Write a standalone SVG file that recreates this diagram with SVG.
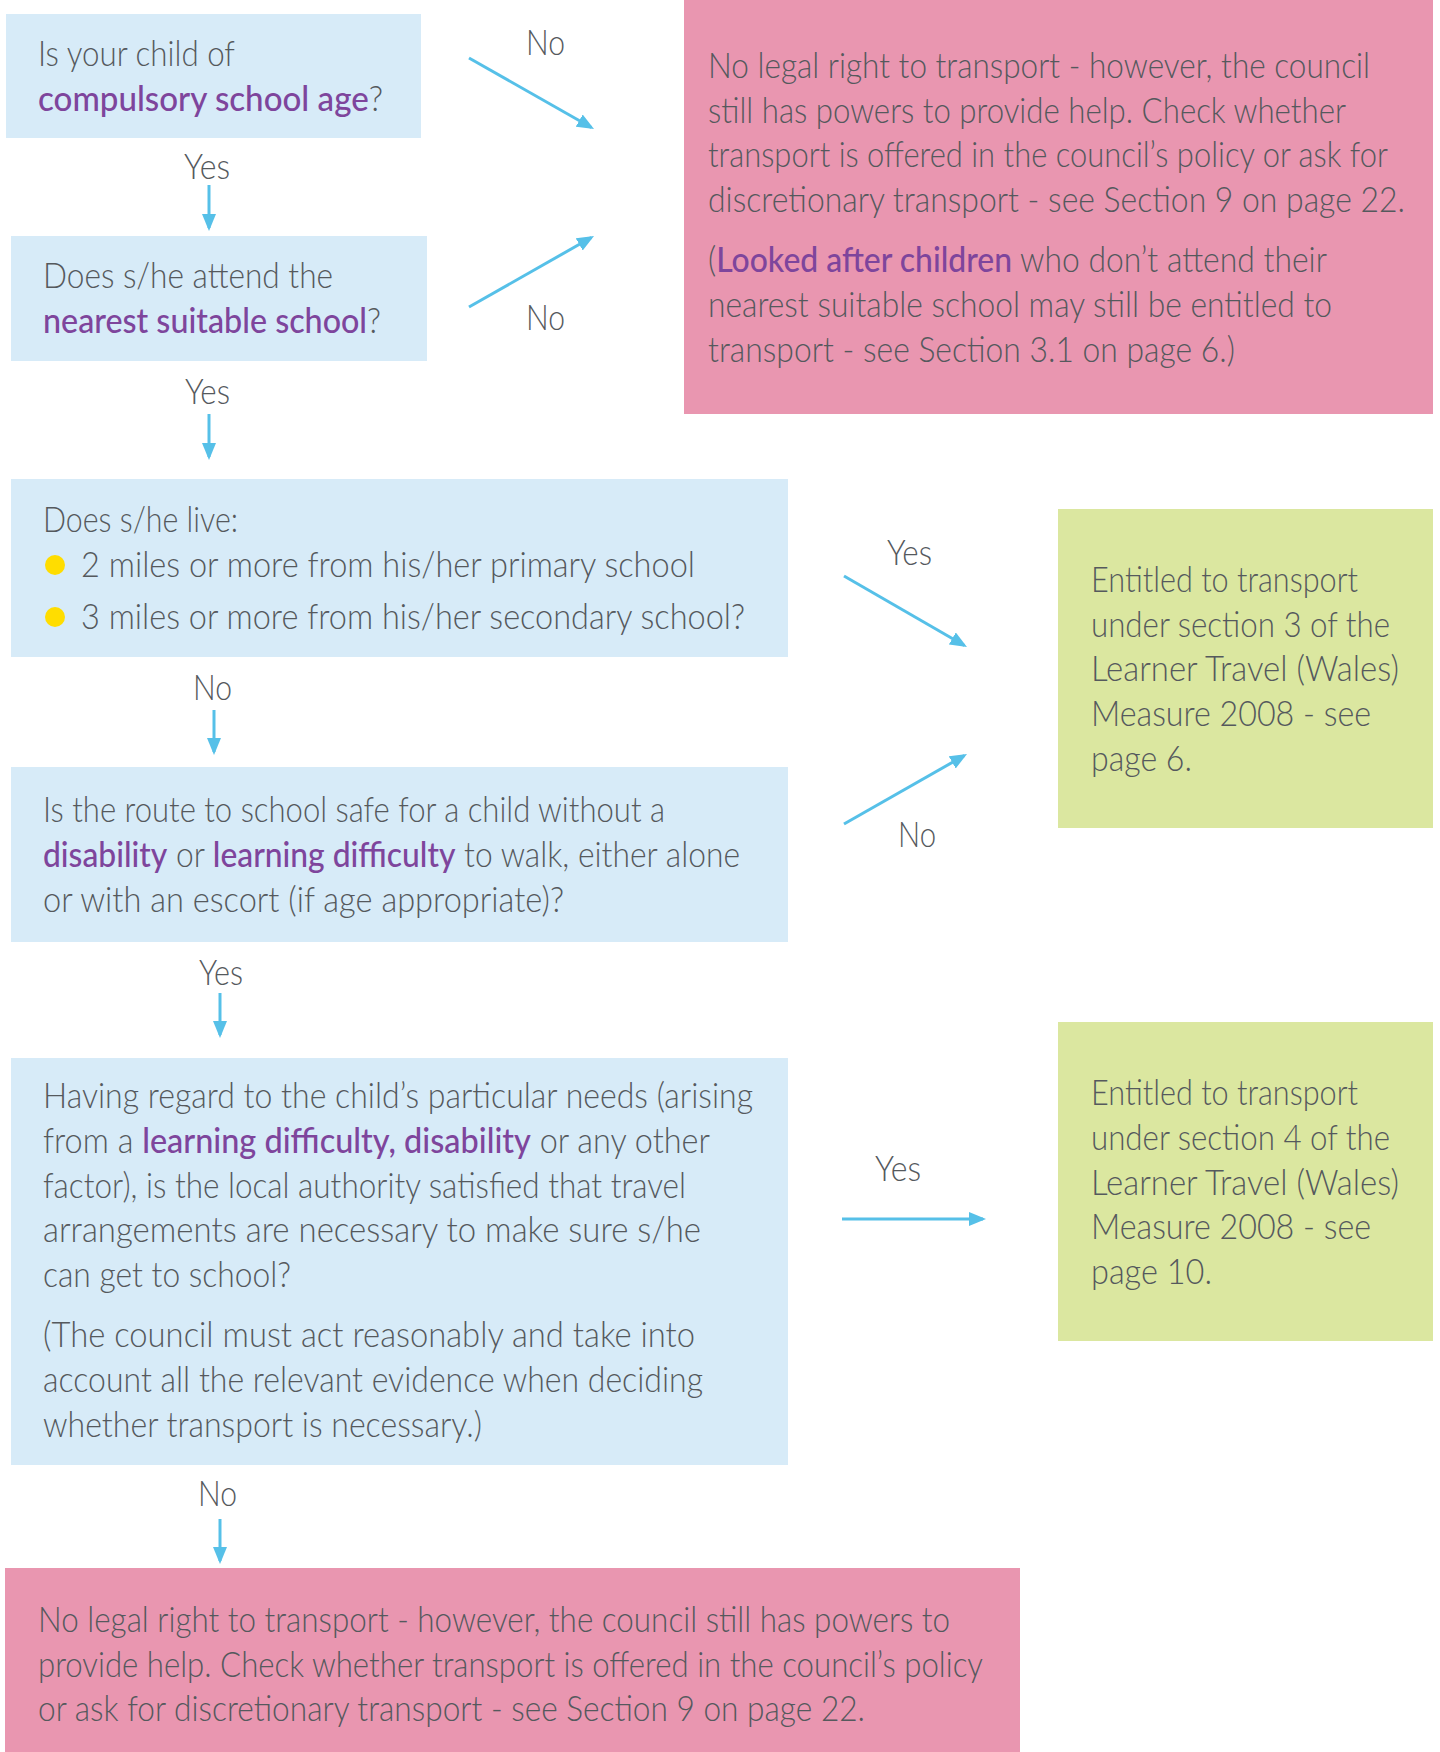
<svg xmlns="http://www.w3.org/2000/svg" width="1440" height="1752" viewBox="0 0 1440 1752">
<defs>
<marker id="ah" markerUnits="userSpaceOnUse" markerWidth="18" markerHeight="14" refX="14" refY="7" orient="auto"><path d="M0,0 L17,7 L0,14 z" fill="#56c0e8"/></marker>
</defs>
<style>
.q{fill:#d7ebf8}
.r{fill:#e996b0}
.g{fill:#dbe7a0}
text{font-family:Lato,'Open Sans','Liberation Sans',sans-serif;font-size:35px;font-weight:300;fill:#55595d}
.p{fill:#7e459c;font-weight:500}
.c{stroke:#56c0e8;stroke-width:3;fill:none;marker-end:url(#ah)}
.b{fill:#ffdd00}
</style>
<rect width="1440" height="1752" fill="#ffffff"/>

<g id="q1">
<rect class="q" x="6" y="14" width="415" height="124"/>
<text x="38" y="66" textLength="197" lengthAdjust="spacingAndGlyphs">Is your child of</text>
<text x="38" y="111" textLength="345" lengthAdjust="spacingAndGlyphs"><tspan class="p">compulsory school age</tspan>?</text>
</g>

<g id="q2">
<rect class="q" x="11" y="236" width="416" height="125"/>
<text x="43" y="288" textLength="290" lengthAdjust="spacingAndGlyphs">Does s/he attend the</text>
<text x="43" y="333" textLength="338" lengthAdjust="spacingAndGlyphs"><tspan class="p">nearest suitable school</tspan>?</text>
</g>

<g id="noRight1">
<rect class="r" x="684" y="0" width="749" height="414"/>
<text x="708" y="78" textLength="662" lengthAdjust="spacingAndGlyphs">No legal right to transport - however, the council</text>
<text x="708" y="123" textLength="638" lengthAdjust="spacingAndGlyphs">still has powers to provide help. Check whether</text>
<text x="708" y="167" textLength="680" lengthAdjust="spacingAndGlyphs">transport is offered in the council’s policy or ask for</text>
<text x="708" y="212" textLength="697" lengthAdjust="spacingAndGlyphs">discretionary transport - see Section 9 on page 22.</text>
<text x="708" y="272" textLength="619" lengthAdjust="spacingAndGlyphs">(<tspan class="p">Looked after children</tspan> who don’t attend their</text>
<text x="708" y="317" textLength="624" lengthAdjust="spacingAndGlyphs">nearest suitable school may still be entitled to</text>
<text x="708" y="362" textLength="527" lengthAdjust="spacingAndGlyphs">transport - see Section 3.1 on page 6.)</text>
</g>

<g id="q3">
<rect class="q" x="11" y="479" width="777" height="178"/>
<text x="43" y="532" textLength="195" lengthAdjust="spacingAndGlyphs">Does s/he live:</text>
<circle class="b" cx="55" cy="565" r="10"/>
<text x="81" y="577" textLength="614" lengthAdjust="spacingAndGlyphs">2 miles or more from his/her primary school</text>
<circle class="b" cx="55" cy="617" r="10"/>
<text x="81" y="629" textLength="664" lengthAdjust="spacingAndGlyphs">3 miles or more from his/her secondary school?</text>
</g>

<g id="yes1">
<rect class="g" x="1058" y="509" width="375" height="319"/>
<text x="1091" y="592" textLength="267" lengthAdjust="spacingAndGlyphs">Entitled to transport</text>
<text x="1091" y="637" textLength="299" lengthAdjust="spacingAndGlyphs">under section 3 of the</text>
<text x="1091" y="681" textLength="308" lengthAdjust="spacingAndGlyphs">Learner Travel (Wales)</text>
<text x="1091" y="726" textLength="280" lengthAdjust="spacingAndGlyphs">Measure 2008 - see</text>
<text x="1091" y="771" textLength="101" lengthAdjust="spacingAndGlyphs">page 6.</text>
</g>

<g id="q4">
<rect class="q" x="11" y="767" width="777" height="175"/>
<text x="43" y="822" textLength="622" lengthAdjust="spacingAndGlyphs">Is the route to school safe for a child without a</text>
<text x="43" y="867" textLength="697" lengthAdjust="spacingAndGlyphs"><tspan class="p">disability</tspan> or <tspan class="p">learning difficulty</tspan> to walk, either alone</text>
<text x="43" y="912" textLength="521" lengthAdjust="spacingAndGlyphs">or with an escort (if age appropriate)?</text>
</g>

<g id="q5">
<rect class="q" x="11" y="1058" width="777" height="407"/>
<text x="43" y="1108" textLength="710" lengthAdjust="spacingAndGlyphs">Having regard to the child’s particular needs (arising</text>
<text x="43" y="1153" textLength="667" lengthAdjust="spacingAndGlyphs">from a <tspan class="p">learning difficulty, disability</tspan> or any other</text>
<text x="43" y="1198" textLength="643" lengthAdjust="spacingAndGlyphs">factor), is the local authority satisfied that travel</text>
<text x="43" y="1242" textLength="658" lengthAdjust="spacingAndGlyphs">arrangements are necessary to make sure s/he</text>
<text x="43" y="1287" textLength="248" lengthAdjust="spacingAndGlyphs">can get to school?</text>
<text x="43" y="1347" textLength="652" lengthAdjust="spacingAndGlyphs">(The council must act reasonably and take into</text>
<text x="43" y="1392" textLength="660" lengthAdjust="spacingAndGlyphs">account all the relevant evidence when deciding</text>
<text x="43" y="1437" textLength="439" lengthAdjust="spacingAndGlyphs">whether transport is necessary.)</text>
</g>

<g id="yes2">
<rect class="g" x="1058" y="1022" width="375" height="319"/>
<text x="1091" y="1105" textLength="267" lengthAdjust="spacingAndGlyphs">Entitled to transport</text>
<text x="1091" y="1150" textLength="299" lengthAdjust="spacingAndGlyphs">under section 4 of the</text>
<text x="1091" y="1195" textLength="308" lengthAdjust="spacingAndGlyphs">Learner Travel (Wales)</text>
<text x="1091" y="1239" textLength="280" lengthAdjust="spacingAndGlyphs">Measure 2008 - see</text>
<text x="1091" y="1284" textLength="121" lengthAdjust="spacingAndGlyphs">page 10.</text>
</g>

<g id="noRight2">
<rect class="r" x="5" y="1568" width="1015" height="184"/>
<text x="38" y="1632" textLength="912" lengthAdjust="spacingAndGlyphs">No legal right to transport - however, the council still has powers to</text>
<text x="38" y="1677" textLength="945" lengthAdjust="spacingAndGlyphs">provide help. Check whether transport is offered in the council’s policy</text>
<text x="38" y="1721" textLength="827" lengthAdjust="spacingAndGlyphs">or ask for discretionary transport - see Section 9 on page 22.</text>
</g>

<g id="connectors">
<line class="c" x1="469" y1="58" x2="591.4" y2="127.5"/>
<line class="c" x1="469" y1="307" x2="591.4" y2="237.5"/>
<line class="c" x1="209" y1="185" x2="209" y2="228"/>
<line class="c" x1="209" y1="414" x2="209" y2="457"/>
<line class="c" x1="844" y1="576" x2="964.4" y2="645.5"/>
<line class="c" x1="844" y1="824" x2="964.4" y2="755.5"/>
<line class="c" x1="214" y1="710" x2="214" y2="752"/>
<line class="c" x1="220" y1="993" x2="220" y2="1035"/>
<line class="c" x1="842" y1="1219" x2="983" y2="1219"/>
<line class="c" x1="220" y1="1519" x2="220" y2="1561"/>
<text x="526" y="55" textLength="39" lengthAdjust="spacingAndGlyphs">No</text>
<text x="184" y="179" textLength="46" lengthAdjust="spacingAndGlyphs">Yes</text>
<text x="526" y="330" textLength="39" lengthAdjust="spacingAndGlyphs">No</text>
<text x="185" y="404" textLength="45" lengthAdjust="spacingAndGlyphs">Yes</text>
<text x="887" y="565" textLength="45" lengthAdjust="spacingAndGlyphs">Yes</text>
<text x="193" y="700" textLength="39" lengthAdjust="spacingAndGlyphs">No</text>
<text x="898" y="847" textLength="38" lengthAdjust="spacingAndGlyphs">No</text>
<text x="199" y="985" textLength="44" lengthAdjust="spacingAndGlyphs">Yes</text>
<text x="875" y="1181" textLength="46" lengthAdjust="spacingAndGlyphs">Yes</text>
<text x="198" y="1506" textLength="39" lengthAdjust="spacingAndGlyphs">No</text>
</g>
</svg>
